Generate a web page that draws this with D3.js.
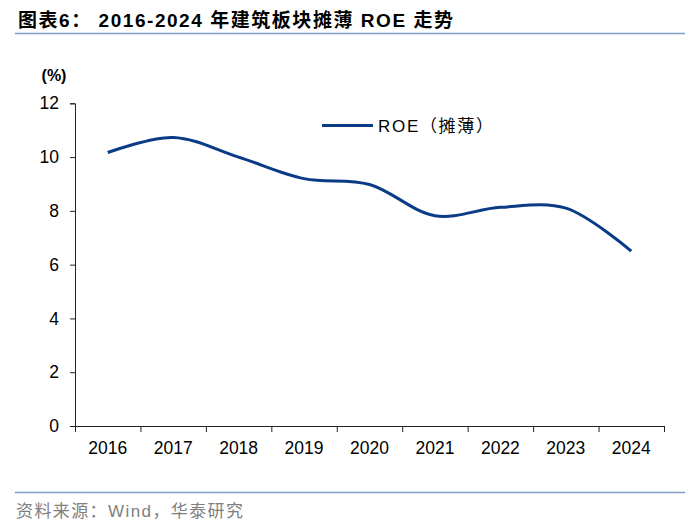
<!DOCTYPE html>
<html><head><meta charset="utf-8">
<script src="https://cdn.jsdelivr.net/npm/d3@7"></script>
<style>
body{margin:0;background:#fff;}
svg{display:block;}
</style></head>
<body>
<svg id="c" width="700" height="529"></svg>
<script>
const years = ["2016","2017","2018","2019","2020","2021","2022","2023","2024"];
const roe = [10.17, 10.73, 10.0, 9.2, 8.98, 7.82, 8.13, 8.1, 6.5];
const yTicks = [0,2,4,6,8,10,12];
const seriesName = "ROE（摊薄）";
const titleText = "图表6：  2016-2024 年建筑板块摊薄 ROE 走势";
const sourceText = "资料来源：Wind，华泰研究";

const svg = d3.select("#c");
const latin = "'Liberation Sans', Arial, 'Noto Sans CJK SC', sans-serif";
const x = d3.scaleBand().domain(years).range([75, 664]);
const y = d3.scaleLinear().domain([0,12]).range([426, 103.3]);

// title
svg.append("text").attr("x",18).attr("y",27)
  .attr("font-family",latin).attr("font-weight","bold").attr("font-size",19)
  .attr("textLength",435).attr("lengthAdjust","spacing")
  .attr("fill","#000").text(titleText);
svg.append("line").attr("x1",15).attr("x2",685).attr("y1",33.5).attr("y2",33.5)
  .attr("stroke","#7f9fca").attr("stroke-width",1.5);

// footer
svg.append("line").attr("x1",15).attr("x2",685).attr("y1",492.5).attr("y2",492.5)
  .attr("stroke","#7f9fca").attr("stroke-width",1.5);
svg.append("text").attr("x",16).attr("y",517)
  .attr("font-family",latin).attr("font-size",17)
  .attr("textLength",227).attr("lengthAdjust","spacing")
  .attr("fill","#808080").text(sourceText);

// y axis
const ya = svg.append("g").attr("transform","translate(75,0)")
  .call(d3.axisLeft(y).tickValues(yTicks).tickSize(5).tickPadding(11).tickFormat(d3.format("d")));
ya.select(".domain").attr("stroke","#222");
ya.selectAll(".tick line").attr("stroke","#222");
ya.selectAll("text").attr("font-family",latin).attr("font-size",17.5).attr("fill","#000");

// unit
svg.append("text").attr("x",54).attr("y",81).attr("text-anchor","middle")
  .attr("font-family",latin).attr("font-weight","bold").attr("font-size",16)
  .attr("fill","#000").text("(%)");

// x axis
const xa = svg.append("g").attr("transform","translate(0,426)")
  .call(d3.axisBottom(x).tickSize(0).tickPadding(16));
xa.select(".domain").attr("stroke","#222");
xa.selectAll("text").attr("font-family",latin).attr("font-size",17.5).attr("fill","#000");
const edges = years.map(d=>x(d)).concat([x.range()[1]]);
xa.selectAll(".edge").data(edges).enter().append("line").attr("class","edge")
  .attr("x1",d=>d+0.5).attr("x2",d=>d+0.5).attr("y1",0).attr("y2",6).attr("stroke","#222");

// line
const line = d3.line()
  .x((d,i)=>x(years[i]) + x.bandwidth()/2)
  .y(d=>y(d))
  .curve(d3.curveCatmullRom.alpha(0.5));
svg.append("path").datum(roe).attr("d",line)
  .attr("fill","none").attr("stroke","#0a3b86").attr("stroke-width",3)
  .attr("stroke-linecap","butt");

// legend
svg.append("line").attr("x1",322).attr("x2",373).attr("y1",125.5).attr("y2",125.5)
  .attr("stroke","#0a3b86").attr("stroke-width",3);
svg.append("text").attr("x",378).attr("y",131.5)
  .attr("font-family",latin).attr("font-size",17)
  .attr("textLength",115).attr("lengthAdjust","spacing")
  .attr("fill","#000").text(seriesName);
</script>
</body></html>
